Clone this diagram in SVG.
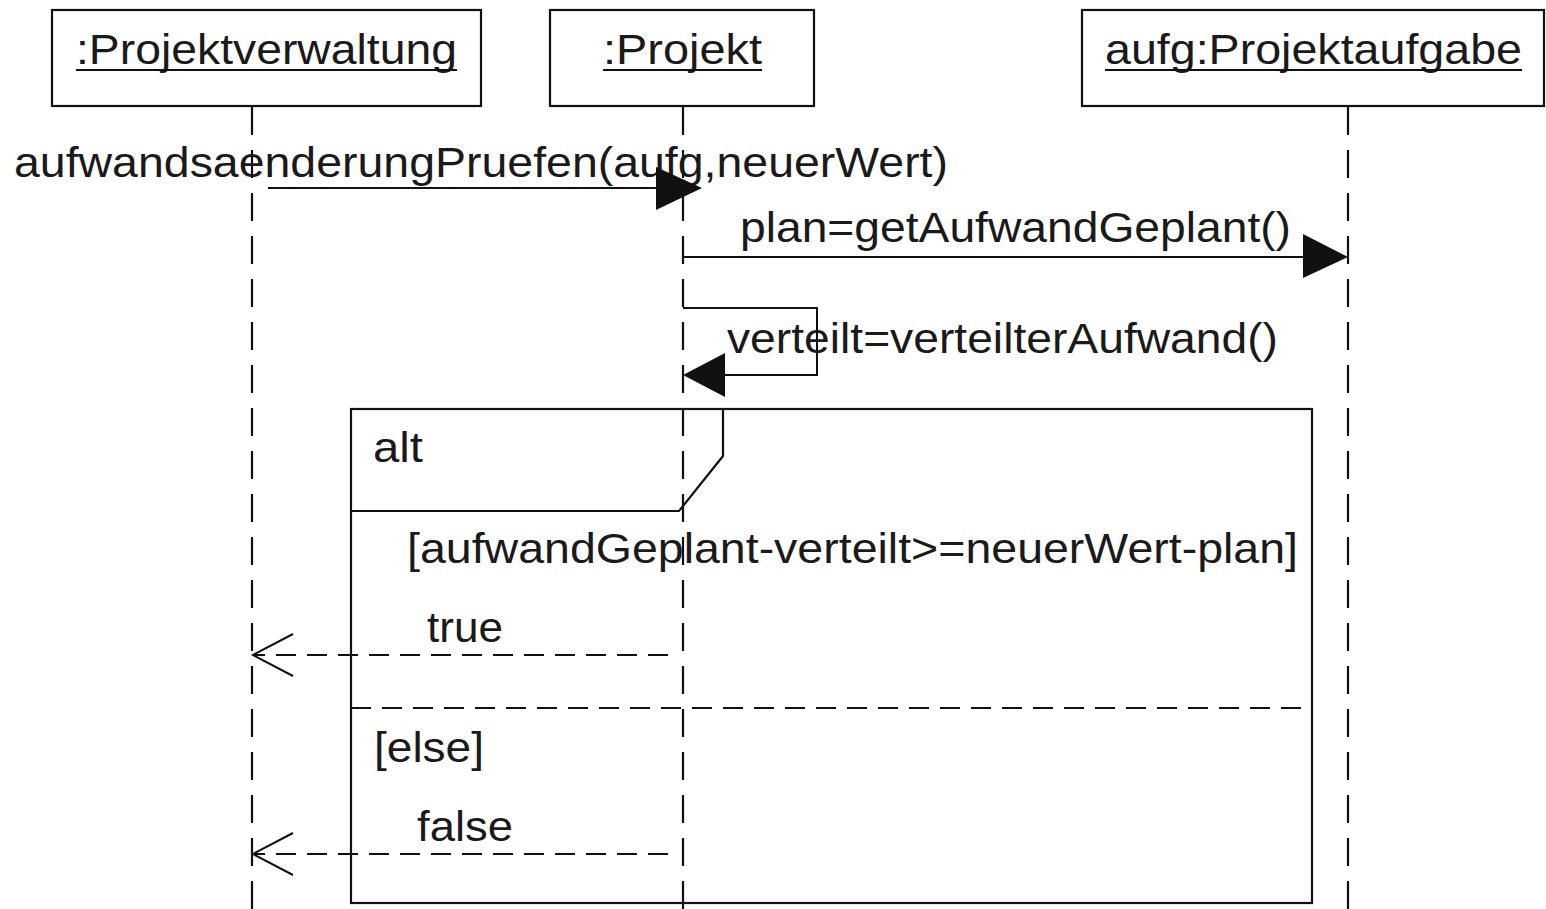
<svg xmlns="http://www.w3.org/2000/svg" width="1546" height="909" viewBox="0 0 1546 909">
<style>
.box{fill:#fff;stroke:#111;stroke-width:2.2}
.life{stroke:#111;stroke-width:2.2;stroke-dasharray:28 15;fill:none}
.msg{stroke:#111;stroke-width:2;fill:none}
.ret{stroke:#111;stroke-width:2;stroke-dasharray:20 11;fill:none}
.frame{stroke:#111;stroke-width:2.2;fill:none}
.head{fill:#111;stroke:none}
.open{stroke:#111;stroke-width:2;fill:none}
text{font-family:"Liberation Sans",Arial,sans-serif;font-size:42px;fill:#1a1a1a}
.ul{stroke:#111;stroke-width:2}
</style>
<rect width="1546" height="909" fill="#fff"/>
<g id="lifelines">
<line class="life" x1="252" y1="107" x2="252" y2="909"/>
<line class="life" x1="683" y1="107" x2="683" y2="909"/>
<line class="life" x1="1348" y1="107" x2="1348" y2="909"/>
</g>
<g id="projektverwaltung">
<rect class="box" x="52" y="10" width="429" height="96"/>
<text x="76" y="64" textLength="381" lengthAdjust="spacingAndGlyphs">:Projektverwaltung</text>
<line class="ul" x1="76" y1="70" x2="457" y2="70"/>
</g>
<g id="projekt">
<rect class="box" x="550" y="10" width="264" height="96"/>
<text x="603" y="64" textLength="159" lengthAdjust="spacingAndGlyphs">:Projekt</text>
<line class="ul" x1="603" y1="70" x2="762" y2="70"/>
</g>
<g id="projektaufgabe">
<rect class="box" x="1082" y="10" width="462" height="96"/>
<text x="1105" y="64" textLength="417" lengthAdjust="spacingAndGlyphs">aufg:Projektaufgabe</text>
<line class="ul" x1="1105" y1="70" x2="1522" y2="70"/>
</g>
<g id="alt-frame">
<rect class="frame" x="351" y="409" width="961" height="494"/>
<polyline class="frame" points="351,511 679,511 723,456 723,409"/>
<text x="373" y="462" textLength="50" lengthAdjust="spacingAndGlyphs">alt</text>
<text x="407" y="563" textLength="891" lengthAdjust="spacingAndGlyphs">[aufwandGeplant-verteilt&gt;=neuerWert-plan]</text>
<line class="ret" x1="351" y1="708" x2="1312" y2="708"/>
<text x="374" y="762" textLength="110" lengthAdjust="spacingAndGlyphs">[else]</text>
</g>
<g id="connectors">
<text x="14" y="177" textLength="934" lengthAdjust="spacingAndGlyphs">aufwandsaenderungPruefen(aufg,neuerWert)</text>
<line class="msg" x1="268" y1="188" x2="657" y2="188"/>
<polygon class="head" points="656,167 702,188 656,210"/>
<text x="740" y="242" textLength="551" lengthAdjust="spacingAndGlyphs">plan=getAufwandGeplant()</text>
<line class="msg" x1="683" y1="257" x2="1304" y2="257"/>
<polygon class="head" points="1303,234 1348,257 1303,278"/>
<text x="727" y="353" textLength="551" lengthAdjust="spacingAndGlyphs">verteilt=verteilterAufwand()</text>
<polyline class="msg" points="683,308 817,308 817,375 724,375"/>
<polygon class="head" points="725,353 683,375 725,397"/>
<text x="427" y="642" textLength="76" lengthAdjust="spacingAndGlyphs">true</text>
<line class="ret" x1="668" y1="655" x2="254" y2="655"/>
<polyline class="open" points="293,634 253,655 293,676"/>
<text x="417" y="841" textLength="96" lengthAdjust="spacingAndGlyphs">false</text>
<line class="ret" x1="668" y1="854" x2="254" y2="854"/>
<polyline class="open" points="293,833 253,854 293,875"/>
</g>
</svg>
